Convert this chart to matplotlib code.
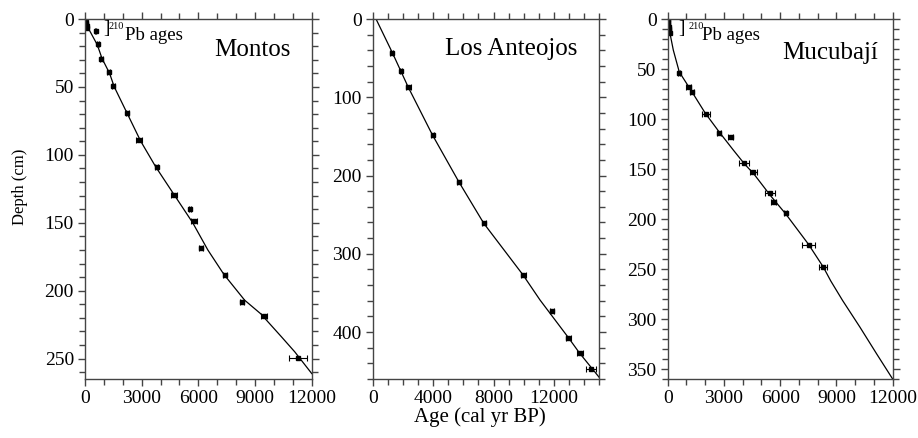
import matplotlib
matplotlib.use("Agg")
import matplotlib.pyplot as plt
from matplotlib.ticker import MultipleLocator

plt.rcParams["font.family"] = ["Liberation Serif", "DejaVu Serif"]

# Montos
montos_pb_age = [0, 15, 30, 50, 80, 110]
montos_pb_depth = [0, 1, 2, 3.5, 5, 6.5]
montos_age = [565, 670, 865, 1250, 1500, 2240, 2875, 3790, 4710, 5560, 5770, 6120, 7390, 8290, 9490, 11260]
montos_depth = [8.8, 18.7, 29.2, 38.8, 49, 69.5, 88.7, 108.8, 129.2, 139.5, 148.6, 168.3, 188.4, 208.5, 218.6, 249.8]
montos_err = [40, 60, 80, 80, 80, 80, 150, 80, 150, 60, 150, 100, 100, 100, 150, 475]
montos_curve_age = [0, 100, 300, 650, 900, 1300, 1550, 2250, 2950, 3750, 4700, 5700, 6500, 7350, 8450, 9300, 10400, 11100, 12000]
montos_curve_depth = [0, 5, 10, 19, 29, 40, 50, 70, 90, 109, 129, 150, 170, 188, 207, 217, 234, 245, 261]

# Los Anteojos
anteojos_age = [1260, 1873, 2357, 3972, 5713, 7368, 9970, 11890, 12950, 13720, 14450]
anteojos_depth = [43, 66.5, 86.9, 148.7, 208.3, 261, 326.7, 372.8, 407.3, 426.5, 447.7]
anteojos_err = [100, 80, 150, 80, 100, 100, 150, 120, 180, 180, 330]
anteojos_curve_age = [220, 1300, 2350, 3950, 5700, 7350, 9950, 11075, 12950, 13700, 15000]
anteojos_curve_depth = [0, 43, 87, 148, 208, 261, 327, 359, 407, 427, 458]

# Mucubají
mucu_pb_age = [0, 10, 25, 40, 55, 70, 90, 110]
mucu_pb_depth = [0, 2, 4, 6, 8, 10, 12, 14]
mucu_age = [620, 1120, 1280, 2040, 2750, 3360, 4070, 4570, 5455, 5650, 6290, 7520, 8280]
mucu_depth = [53.8, 67.8, 72.8, 95.2, 113.9, 117.9, 143.6, 153, 174, 183, 194, 225.7, 248]
mucu_err = [60, 120, 100, 200, 100, 150, 290, 200, 285, 150, 80, 355, 220]
mucu_curve_age = [0, 120, 300, 620, 1200, 2000, 2750, 3500, 4100, 4600, 5500, 6300, 7500, 8300, 8700, 9330, 10250, 11150, 12000]
mucu_curve_depth = [0, 14, 31, 53, 70, 94, 113, 131, 145, 155, 177, 195, 225, 248, 262, 281.5, 308, 335, 360]

spine_col = "#444444"


def style_axis(ax, xmax, xmajor, ymax, ymajor, yminor):
    ax.set_xlim(0, xmax)
    ax.set_ylim(ymax, 0)
    ax.xaxis.set_major_locator(MultipleLocator(xmajor))
    ax.xaxis.set_minor_locator(MultipleLocator(1000))
    ax.yaxis.set_major_locator(MultipleLocator(ymajor))
    ax.yaxis.set_minor_locator(MultipleLocator(yminor))
    ax.tick_params(which="both", direction="out", top=True, right=True,
                   labeltop=False, labelright=False, color=spine_col,
                   labelsize=14, width=1)
    ax.tick_params(which="major", length=5, pad=3)
    ax.tick_params(which="minor", length=4)
    for s in ax.spines.values():
        s.set_color(spine_col)
        s.set_linewidth(1)


def draw(ax, age, depth, err, cage, cdepth):
    ax.plot(cage, cdepth, color="black", linewidth=0.9)
    ax.errorbar(age, depth, xerr=err, fmt="s", color="black", markersize=3,
                elinewidth=0.8, capsize=2.5, capthick=0.8)


def pb_label(ax, xb, x210, xpb):
    # bracket + superscript 210 + "Pb ages"
    ax.text(xb, 0.973, "]", transform=ax.transAxes, ha="right", va="center",
            fontsize=14, fontweight="light")
    ax.text(x210, 0.992, "210", transform=ax.transAxes, ha="left", va="top", fontsize=7.5)
    ax.text(xpb, 0.942, "Pb ages", transform=ax.transAxes, ha="left", va="baseline", fontsize=13.5)


fig = plt.figure(figsize=(9.18, 4.38), dpi=100)
ax1 = fig.add_axes([0.0926, 0.1347, 0.2470, 0.8219])
ax2 = fig.add_axes([0.4060, 0.1347, 0.2468, 0.8219])
ax3 = fig.add_axes([0.7273, 0.1347, 0.2451, 0.8219])

# Montos
draw(ax1, montos_age, montos_depth, montos_err, montos_curve_age, montos_curve_depth)
ax1.plot(montos_pb_age, montos_pb_depth, "s", color="black", markersize=3)
style_axis(ax1, 12000, 3000, 265, 50, 10)
ax1.text(0.905, 0.914, "Montos", transform=ax1.transAxes, ha="right", va="center", fontsize=18)
pb_label(ax1, 0.108, 0.104, 0.176)

# Los Anteojos
draw(ax2, anteojos_age, anteojos_depth, anteojos_err, anteojos_curve_age, anteojos_curve_depth)
style_axis(ax2, 15000, 4000, 460, 100, 20)
ax2.text(0.902, 0.916, "Los Anteojos", transform=ax2.transAxes, ha="right", va="center", fontsize=18)

# Mucubají
draw(ax3, mucu_age, mucu_depth, mucu_err, mucu_curve_age, mucu_curve_depth)
ax3.plot(mucu_pb_age, mucu_pb_depth, "s", color="black", markersize=3)
style_axis(ax3, 12000, 3000, 360, 50, 10)
ax3.text(0.935, 0.906, "Mucubají", transform=ax3.transAxes, ha="right", va="center", fontsize=18)
pb_label(ax3, 0.078, 0.093, 0.151)

fig.text(0.523, 0.048, "Age (cal yr BP)", ha="center", va="center", fontsize=15)
fig.text(0.022, 0.574, "Depth (cm)", ha="center", va="center", rotation=90, fontsize=12)

fig.savefig("out.png", dpi=100)
